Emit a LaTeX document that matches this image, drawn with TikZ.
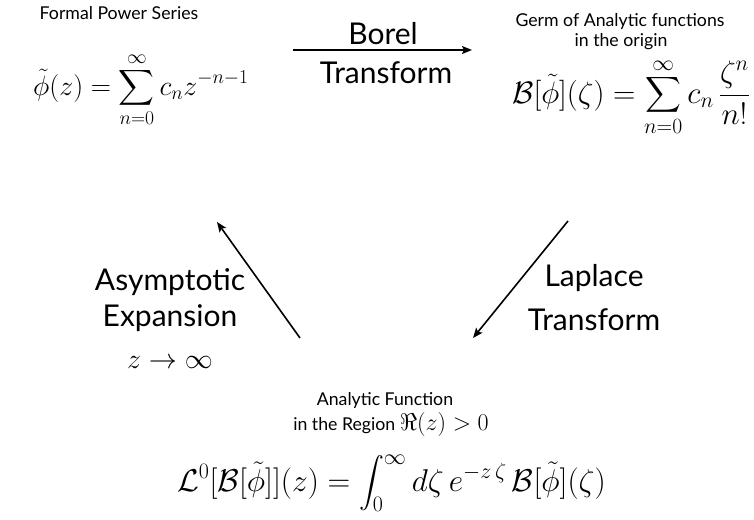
\RequirePackage{fix-cm}
\documentclass[tikz,border=0pt]{standalone}
\usepackage{exscale}
\usepackage{amsmath}
\usepackage{fontspec}
\setmainfont{Lato}
\usetikzlibrary{arrows.meta}
\begin{document}
\begin{tikzpicture}[x=1pt,y=-1pt,
  small/.style={font=\fontsize{17.7}{21}\selectfont, inner sep=0pt},
  big/.style={font=\fontsize{30}{36}\selectfont, inner sep=0pt},
  mathf/.style={font=\fontsize{28}{34}\selectfont, inner sep=0pt},
  mathl/.style={font=\fontsize{31.5}{38}\selectfont, inner sep=0pt},
  arr/.style={line width=1.6pt, -{Stealth[length=10pt,width=8pt,inset=2pt]}}]
\useasboundingbox (0,0) rectangle (754,519);
% top left
\node[small, anchor=base] (fpsl) at (119,20) {Formal Power Series};
\node[mathf, anchor=base west] (fps) at (33,95) {$\displaystyle \tilde\phi(z) = \sum_{n=0}^{\infty} c_n z^{-n-1}$};
% top right
\node[small, anchor=base] (germl1) at (620,27) {Germ of Analytic functions};
\node[small, anchor=base] (germl2) at (621,46) {in the origin};
\node[mathf, font=\fontsize{31}{37}\selectfont, anchor=base west] (germ) at (512,103) {$\displaystyle \mathcal{B}[\tilde\phi](\zeta) = \sum_{n=0}^{\infty} c_n\, \frac{\zeta^n}{n!}$};
% Borel transform
\coordinate (b1) at (293,50);
\coordinate (b2) at (472,50);
\draw[arr] (b1) -- (b2);
\node[big, anchor=base] (borel) at (383,45) {Borel};
\node[big, anchor=base] (btr) at (386,83) {Transform};
% bottom
\node[small, anchor=base] (anl1) at (385,405) {Analytic Function};
\node[small, anchor=base] (anl2) at (391,430) {in the Region {\fontsize{24}{28}\selectfont$\Re(z) > 0$}};
\node[mathl, anchor=base west] (lap) at (177,491) {$\displaystyle \mathcal{L}^0[\mathcal{B}[\tilde\phi]](z) = \int_0^\infty d\zeta\, e^{-z\,\zeta}\, \mathcal{B}[\tilde\phi](\zeta)$};
% Laplace arrow
\coordinate (l1) at (568,221);
\coordinate (l2) at (473,338);
\draw[arr] (l1) -- (l2);
\node[big, anchor=base] (lapl) at (594,286) {Laplace};
\node[big, anchor=base] (ltr) at (594,330) {Transform};
% asymptotic arrow
\coordinate (a1) at (300,338);
\coordinate (a2) at (217,222);
\draw[arr] (a1) -- (a2);
\node[big, anchor=base] (asy) at (170,290) {Asymptotic};
\node[big, anchor=base] (exp) at (170,326) {Expansion};
\node[mathf, anchor=base] (lim) at (170,368) {$z \to \infty$};
\end{tikzpicture}
\end{document}
